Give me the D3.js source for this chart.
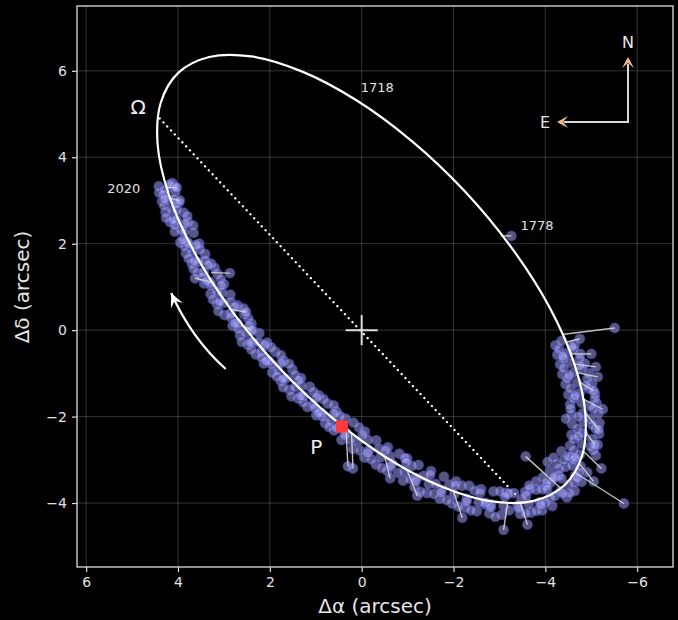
<!DOCTYPE html>
<html><head><meta charset="utf-8">
<script src="https://cdn.jsdelivr.net/npm/d3@7"></script>
<style>body{margin:0;background:#000}svg{display:block}text{font-family:"DejaVu Sans",sans-serif}</style>
</head><body><svg id="c" width="678" height="620"></svg>
<script>
// ---------- data ----------
const xTicks = [6, 4, 2, 0, -2, -4, -6];
const yTicks = [6, 4, 2, 0, -2, -4];

// fitted orbit (Δα, Δδ), in order around the ellipse
const orbitPath = [
 [-4.416,-3.589],[-4.800,-2.904],[-4.871,-1.937],[-4.625,-0.759],[-4.079,0.551],[-3.267,1.904],
 [-2.250,3.209],[-1.093,4.375],[0.124,5.326],[1.320,5.993],[2.406,6.333],[3.319,6.319],
 [3.990,5.958],[4.373,5.273],[4.445,4.306],[4.199,3.128],[3.652,1.819],[2.840,0.465],
 [1.823,-0.840],[0.666,-2.006],[-0.551,-2.957],[-1.747,-3.623],[-2.833,-3.963],[-3.746,-3.950]
];

// observations, 2020 back towards the periastron (west arc)
const obsLeft = [
 [4.42,3.33],[4.14,3.31],[4.41,3.18],[4.12,3.40],[4.30,3.24],[4.35,2.98],[4.06,3.20],[4.21,3.02],
 [4.27,2.73],[3.98,2.95],[4.14,2.78],[4.17,2.50],[3.88,2.72],[4.03,2.54],[4.07,2.28],[3.78,2.50],
 [3.94,2.31],[3.95,2.03],[3.66,2.25],[3.81,2.06],[3.83,1.78],[3.54,2.00],[3.70,1.82],[3.70,1.54],
 [3.41,1.76],[3.56,1.58],[3.57,1.32],[3.28,1.54],[3.44,1.35],[3.43,1.08],[3.14,1.30],[3.29,1.11],
 [3.29,0.84],[3.00,1.06],[3.16,0.88],[3.15,0.60],[2.86,0.82],[3.01,0.63],[2.99,0.35],[2.70,0.57],
 [2.86,0.39],[2.81,0.10],[2.56,0.37],[2.70,0.16],[2.65,-0.12],[2.40,0.15],[2.53,-0.07],[2.48,-0.34],
 [2.23,-0.07],[2.37,-0.28],[2.31,-0.56],[2.06,-0.29],[2.19,-0.50],[2.13,-0.77],[1.88,-0.50],[2.02,-0.71],
 [1.95,-0.98],[1.70,-0.71],[1.83,-0.92],[1.76,-1.18],[1.51,-0.91],[1.65,-1.12],[1.57,-1.38],[1.32,-1.11],
 [1.45,-1.32],[1.38,-1.58],[1.13,-1.31],[1.27,-1.52],[1.18,-1.78],[0.93,-1.51],[1.06,-1.72],[0.99,-1.97],
 [0.74,-1.70],[0.88,-1.91],[0.80,-2.15],[0.55,-1.88],[0.68,-2.09],[0.60,-2.32],[0.35,-2.05],[0.49,-2.26],
 [4.32,3.14],[4.09,3.03],[4.26,2.60],[3.80,2.64],[3.86,2.28],[3.86,1.94],[3.52,1.86],[3.66,1.42],
 [3.20,1.44],[3.28,1.03],[3.04,0.87],[3.12,0.44],[2.57,0.50],[2.69,0.03],[2.37,-0.01],[2.40,-0.45],
 [1.97,-0.40],[1.96,-0.79],[1.58,-0.78],[1.71,-1.32],[1.31,-1.29],[1.27,-1.67],[0.83,-1.60],[0.85,-2.00],
 [0.47,-1.99],
 [4.08,3.32],[4.30,2.88],[4.02,2.78],[4.07,2.43],[3.67,2.42],[3.77,2.00],[3.77,1.66],[3.41,1.62],
 [3.47,1.23],[3.07,1.18],[3.24,0.71],[2.85,0.65],[2.85,0.30],[2.47,0.27],[2.61,-0.27],[2.24,-0.28],
 [2.18,-0.63],[1.76,-0.58],[1.85,-1.07],[1.45,-1.04],[1.53,-1.53],[1.05,-1.43],[1.02,-1.80],[0.61,-1.74],
 [0.71,-2.24],
 [4.18,3.37],[4.29,3.04],[4.04,2.92],[4.11,2.56],[3.84,2.47],[3.89,2.09],[3.60,1.97],[3.64,1.60],
 [3.34,1.51],[3.37,1.14],[3.06,1.03],[3.09,0.66],[2.76,0.54],[2.76,0.16],[2.45,0.10],[2.43,-0.28],
 [2.11,-0.34],[2.08,-0.71],[1.75,-0.76],[1.71,-1.12],[1.37,-1.16],[1.33,-1.52],[0.98,-1.56],[0.94,-1.91],
 [0.60,-1.93],[0.55,-2.26]
];

// observations around the periastron passage (south arc)
const obsBottom = [
 [0.44,-2.54],[0.18,-2.14],[0.34,-2.37],[0.19,-2.75],[-0.07,-2.35],[0.09,-2.58],[-0.06,-2.95],[-0.32,-2.55],
 [-0.16,-2.78],[-0.31,-3.11],[-0.57,-2.71],[-0.41,-2.94],[-0.56,-3.26],[-0.82,-2.86],[-0.66,-3.09],
 [-0.90,-3.48],[-0.99,-2.97],[-0.94,-3.27],[-1.15,-3.63],[-1.24,-3.12],[-1.19,-3.42],[-1.42,-3.77],
 [-1.51,-3.26],[-1.46,-3.56],[-1.70,-3.90],[-1.79,-3.39],[-1.74,-3.69],[-1.97,-4.01],[-2.06,-3.50],
 [-2.01,-3.80],[-2.25,-4.11],[-2.34,-3.60],[-2.29,-3.90],[-2.51,-4.19],[-2.60,-3.68],[-2.55,-3.98],
 [-2.78,-4.24],[-2.87,-3.73],[-2.82,-4.03],[-3.05,-4.27],[-3.14,-3.76],[-3.09,-4.06],[-3.45,-4.25],
 [-3.32,-3.77],[-3.40,-4.06],[-3.69,-4.22],[-3.56,-3.74],[-3.64,-4.03],[-3.93,-4.17],[-3.80,-3.69],
 [-3.88,-3.98],[-4.15,-4.07],[-4.02,-3.59],[-4.10,-3.88],[-4.47,-3.87],[-4.12,-3.52],[-4.33,-3.73],
 [-4.64,-3.72],[-4.29,-3.37],[-4.50,-3.58],[-4.79,-3.51],[-4.44,-3.16],[-4.65,-3.37],[-4.91,-3.29],
 [-4.56,-2.94],[-4.77,-3.15],
 [0.25,-2.54],[-0.14,-2.54],[-0.21,-2.99],[-0.62,-2.92],[-0.79,-3.30],[-1.10,-3.14],[-1.28,-3.74],
 [-1.61,-3.56],[-1.85,-3.93],[-2.19,-3.60],[-2.38,-4.17],[-2.68,-4.03],[-2.91,-4.32],[-3.20,-3.78],
 [-3.57,-4.24],[-3.67,-3.68],[-4.01,-3.99],[-4.03,-3.54],[-4.53,-3.77],[-4.31,-3.21],[-4.74,-3.29],
 [-3.95,-3.40],[-4.10,-3.25],[-4.25,-3.10],[-3.80,-3.50],[-4.18,-2.95],[-4.35,-2.80],[-4.05,-3.05],
 [-4.40,-3.00],[-3.65,-3.60],[-4.22,-3.38],
 [0.06,-2.25],[0.03,-2.79],[-0.38,-2.74],[-0.44,-3.19],[-0.94,-2.96],[-1.05,-3.44],[-1.35,-3.37],
 [-1.57,-3.79],[-1.91,-3.57],[-2.11,-4.08],[-2.46,-3.71],[-2.69,-3.99],[-3.01,-3.73],[-3.21,-4.17],
 [-3.48,-3.91],[-3.81,-4.18],[-3.92,-3.68],[-4.20,-3.84],[-4.18,-3.42],[-4.63,-3.53],[-4.58,-3.13],
 [0.37,-2.43],[-0.02,-2.42],[-0.13,-2.84],[-0.52,-2.78],[-0.63,-3.15],[-0.97,-3.06],[-1.18,-3.49],
 [-1.49,-3.35],[-1.73,-3.76],[-2.04,-3.59],[-2.28,-3.97],[-2.58,-3.77],[-2.81,-4.10],[-3.12,-3.85],
 [-3.42,-4.12],[-3.58,-3.83],[-3.90,-4.04],[-4.04,-3.68],[-4.38,-3.78],[-4.35,-3.43],[-4.70,-3.42],
 [-4.62,-3.00]
];

// observations up the east side of the orbit
const obsRight = [
 [-5.10,-2.90],[-4.50,-2.92],[-4.75,-2.88],[-5.14,-2.65],[-4.54,-2.67],[-4.79,-2.63],[-5.17,-2.40],
 [-4.57,-2.42],[-4.82,-2.38],[-5.18,-2.15],[-4.58,-2.17],[-4.83,-2.13],[-5.15,-1.94],[-4.57,-1.96],
 [-4.82,-1.92],[-5.12,-1.70],[-4.54,-1.72],[-4.79,-1.68],[-5.08,-1.47],[-4.50,-1.49],[-4.75,-1.45],
 [-5.02,-1.23],[-4.44,-1.25],[-4.69,-1.21],[-4.95,-1.00],[-4.37,-1.02],[-4.62,-0.98],[-4.86,-0.77],
 [-4.32,-0.79],[-4.55,-0.75],[-4.76,-0.55],[-4.26,-0.57],[-4.47,-0.53],[-4.64,-0.33],[-4.22,-0.35],
 [-4.62,-2.78],[-5.02,-2.52],[-4.70,-2.28],[-4.45,-2.05],[-5.05,-1.82],[-4.62,-1.58],[-4.95,-1.35],
 [-4.48,-1.12],[-4.80,-0.88],[-4.40,-0.66],[-4.62,-0.44],
 [-5.05,-2.78],[-4.62,-2.52],[-5.10,-2.28],[-4.98,-2.05],[-4.55,-1.82],[-5.08,-1.58],[-4.55,-1.35],
 [-4.92,-1.12],[-4.40,-0.88],[-4.75,-0.66],[-4.30,-0.44],
 [-4.65,-2.95],[-4.99,-2.70],[-4.72,-2.45],[-5.03,-2.20],[-4.72,-2.00],[-4.99,-1.75],[-4.65,-1.52],
 [-4.89,-1.28],[-4.52,-1.05],[-4.75,-0.82],[-4.38,-0.60],[-4.58,-0.38],[-4.35,-0.25]
];

// residual vectors: [orbit Δα, orbit Δδ, observed Δα, observed Δδ]
const residuals = [
 [4.25,3.30,4.03,3.30],[4.20,3.06,3.96,3.00],[3.28,1.33,2.87,1.32],[3.22,1.10,3.63,1.20],
 [2.86,0.48,2.52,0.42],[2.62,0.12,2.40,0.00],[-3.03,2.18,-3.26,2.18],
 [-4.36,-0.10,-5.51,0.05],[-4.45,-0.28,-4.75,-0.20],[-4.56,-0.55,-5.00,-0.55],[-4.62,-0.78,-5.10,-0.85],
 [-4.68,-0.98,-5.14,-1.08],[-4.74,-1.20,-5.05,-1.40],[-4.80,-1.58,-5.25,-1.83],[-4.86,-1.90,-5.16,-2.30],
 [-4.87,-2.35,-5.08,-2.65],[-4.83,-2.80,-5.22,-3.20],[-4.75,-3.10,-5.05,-3.50],[-4.66,-3.30,-5.71,-4.01],
 [-4.33,-3.65,-3.57,-2.92],[-3.45,-3.99,-3.61,-4.50],[-3.18,-3.99,-3.09,-4.62],[-2.00,-3.73,-2.19,-4.34],
 [-0.98,-3.22,-1.21,-3.83],[-0.50,-2.92,-0.62,-3.43],[0.22,-2.40,0.19,-3.20],[0.34,-2.30,0.30,-3.15]
];

const periastron = [0.43, -2.23];
const nodeLine = [[4.40, 4.90], [-3.35, -3.80]];
const yearLabels = [["1718", -0.34, 5.61], ["1778", -3.82, 2.43], ["2020", 5.18, 3.29]];

// ---------- chart ----------
const W = 678, H = 620;
const svg = d3.select("#c");
svg.append("rect").attr("width", W).attr("height", H).attr("fill", "#000");

const x = d3.scaleLinear().domain([6.20, -6.78]).range([77, 673]);
const y = d3.scaleLinear().domain([7.50, -5.48]).range([6, 567]);

// grid
const grid = svg.append("g").attr("stroke", "#ffffff").attr("stroke-opacity", 0.2).attr("stroke-width", 1);
xTicks.forEach(t => grid.append("line").attr("x1", x(t)).attr("x2", x(t)).attr("y1", 6).attr("y2", 567));
yTicks.forEach(t => grid.append("line").attr("y1", y(t)).attr("y2", y(t)).attr("x1", 77).attr("x2", 673));

// axes
const fmt = d => d3.format("d")(d);
const gx = svg.append("g").attr("transform", "translate(0,567)")
  .call(d3.axisBottom(x).tickValues(xTicks).tickFormat(fmt).tickSize(5).tickPadding(5));
const gy = svg.append("g").attr("transform", "translate(77,0)")
  .call(d3.axisLeft(y).tickValues(yTicks).tickFormat(fmt).tickSize(5).tickPadding(5));
[gx, gy].forEach(g => {
  g.select(".domain").remove();
  g.selectAll(".tick line").attr("stroke", "#dddddd").attr("stroke-width", 1.2);
  g.selectAll(".tick text").attr("fill", "#e2e2e2").style("font-size", "14px").style("font-family", "DejaVu Sans");
});
svg.append("rect").attr("x", 77).attr("y", 6).attr("width", 596).attr("height", 561)
  .attr("fill", "none").attr("stroke", "#dddddd").attr("stroke-width", 1.3);

svg.append("text").attr("x", 375).attr("y", 613).attr("text-anchor", "middle")
  .attr("fill", "#e6e6e6").style("font-size", "20px").text("Δα (arcsec)");
svg.append("text").attr("transform", "translate(29,287) rotate(-90)").attr("text-anchor", "middle")
  .attr("fill", "#e6e6e6").style("font-size", "20px").text("Δδ (arcsec)");

const plot = svg.append("g");

// node line (dotted)
plot.append("path").attr("d", d3.line().x(d => x(d[0])).y(d => y(d[1]))(nodeLine))
  .attr("stroke", "#ffffff").attr("stroke-width", 2.3).attr("stroke-linecap", "round")
  .attr("stroke-dasharray", "0.1 5.4").attr("fill", "none");

// primary star cross
const cs = 0.35;
plot.append("line").attr("x1", x(cs)).attr("x2", x(-cs)).attr("y1", y(0)).attr("y2", y(0))
  .attr("stroke", "#dcdcdc").attr("stroke-width", 2);
plot.append("line").attr("x1", x(0)).attr("x2", x(0)).attr("y1", y(cs)).attr("y2", y(-cs))
  .attr("stroke", "#dcdcdc").attr("stroke-width", 2);

// observations
const allObs = obsLeft.concat(obsBottom, obsRight, residuals.map(r => [r[2], r[3]]));
plot.append("g").selectAll("circle").data(allObs).join("circle")
  .attr("cx", d => x(d[0])).attr("cy", d => y(d[1])).attr("r", 4.9)
  .attr("fill", "#aeaeff").attr("fill-opacity", 0.5)
  .attr("stroke", "#4a4ab8").attr("stroke-width", 1.1).attr("stroke-opacity", 0.6);

// residual lines
plot.append("g").selectAll("line").data(residuals).join("line")
  .attr("x1", d => x(d[0])).attr("y1", d => y(d[1])).attr("x2", d => x(d[2])).attr("y2", d => y(d[3]))
  .attr("stroke", "#d4d4d4").attr("stroke-width", 1.4).attr("stroke-opacity", 0.9);

// orbit
plot.append("path")
  .attr("d", d3.line().x(d => x(d[0])).y(d => y(d[1])).curve(d3.curveCatmullRomClosed.alpha(0.5))(orbitPath))
  .attr("fill", "none").attr("stroke", "#ffffff").attr("stroke-width", 2.2);

// periastron marker
plot.append("rect").attr("x", x(periastron[0]) - 6).attr("y", y(periastron[1]) - 6)
  .attr("width", 12).attr("height", 12).attr("fill", "#ff3b3b");

// direction-of-motion arrow
const a0 = [2.96, -0.90], a1 = [4.15, 0.86], ac = [3.70, -0.20];
const arr = d3.path();
arr.moveTo(x(a0[0]), y(a0[1]));
arr.quadraticCurveTo(x(ac[0]), y(ac[1]), x(a1[0]), y(a1[1]));
plot.append("path").attr("d", arr.toString()).attr("fill", "none").attr("stroke", "#ffffff").attr("stroke-width", 2.2);
{
  const tx = x(a1[0]), ty = y(a1[1]);
  const ang = Math.atan2(ty - y(ac[1]), tx - x(ac[0]));
  const L = 14, Wd = 6.5;
  const bx = tx - L * Math.cos(ang), by = ty - L * Math.sin(ang);
  const px = -Math.sin(ang), py = Math.cos(ang);
  plot.append("path").attr("d",
    `M${tx},${ty}L${bx + Wd * px},${by + Wd * py}L${tx - 0.6 * L * Math.cos(ang)},${ty - 0.6 * L * Math.sin(ang)}L${bx - Wd * px},${by - Wd * py}Z`)
    .attr("fill", "#ffffff");
}

// labels
plot.selectAll(".yl").data(yearLabels).join("text")
  .attr("x", d => x(d[1])).attr("y", d => y(d[2])).attr("dy", "0.35em").attr("text-anchor", "middle")
  .attr("fill", "#e0e0e0").style("font-size", "13px").text(d => d[0]);
plot.append("text").attr("x", x(4.87)).attr("y", y(5.17)).attr("dy", "0.35em").attr("text-anchor", "middle")
  .attr("fill", "#eeeeee").style("font-size", "20px").text("Ω");
plot.append("text").attr("x", x(0.99)).attr("y", y(-2.71)).attr("dy", "0.35em").attr("text-anchor", "middle")
  .attr("fill", "#eeeeee").style("font-size", "20px").text("P");

// compass
const corner = [628, 122];
const comp = svg.append("g");
comp.append("path").attr("d", `M${corner[0]},64L${corner[0]},${corner[1]}L564,${corner[1]}`)
  .attr("fill", "none").attr("stroke", "#d8d8d8").attr("stroke-width", 2);
const head = (tx, ty, dx, dy) => {
  const L = 11, Wd = 6, px = -dy, py = dx;
  const bx = tx - L * dx, by = ty - L * dy;
  return `M${tx},${ty}L${bx + Wd * px},${by + Wd * py}L${tx - 0.55 * L * dx},${ty - 0.55 * L * dy}L${bx - Wd * px},${by - Wd * py}Z`;
};
comp.append("path").attr("d", head(628, 57, 0, -1)).attr("fill", "#f3b98c");
comp.append("path").attr("d", head(557, 122, -1, 0)).attr("fill", "#f3b98c");
comp.append("text").attr("x", 628).attr("y", 42).attr("dy", "0.35em").attr("text-anchor", "middle")
  .attr("fill", "#e6e6e6").style("font-size", "16px").text("N");
comp.append("text").attr("x", 545).attr("y", 122).attr("dy", "0.35em").attr("text-anchor", "middle")
  .attr("fill", "#e6e6e6").style("font-size", "16px").text("E");
</script>
</body></html>
